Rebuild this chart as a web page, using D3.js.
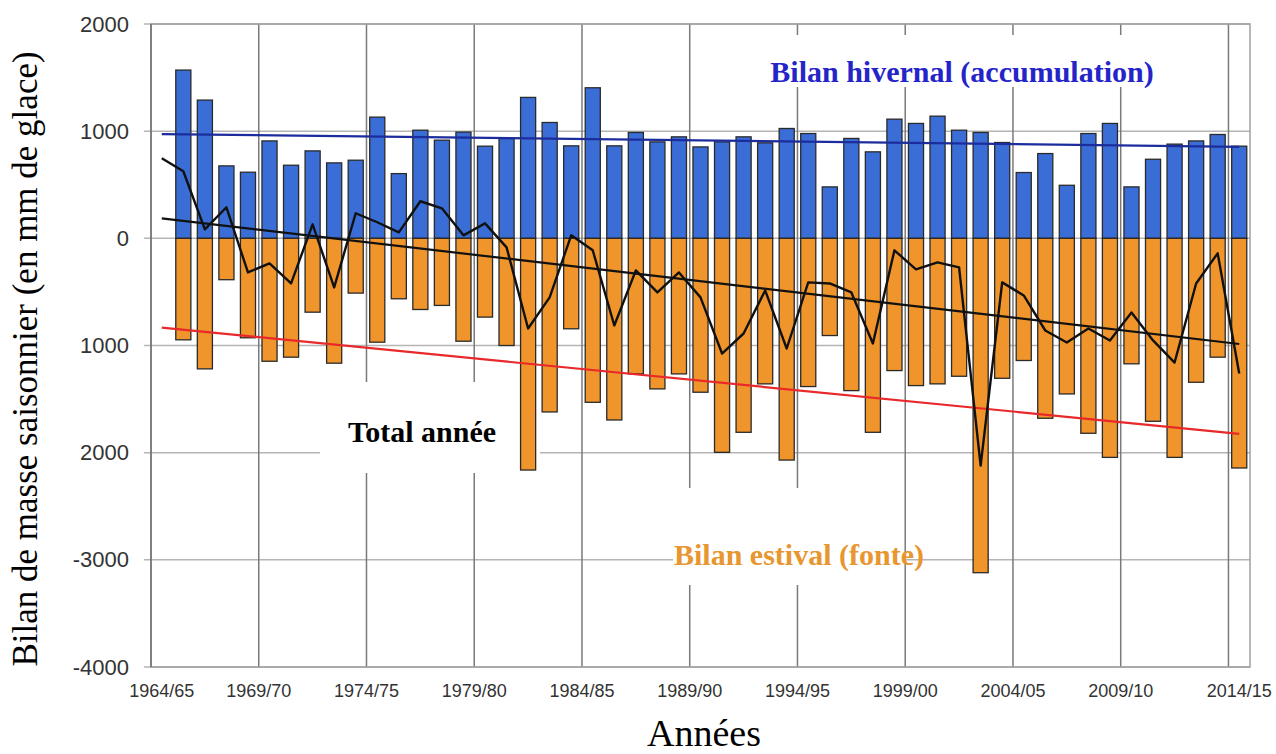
<!DOCTYPE html>
<html>
<head>
<meta charset="utf-8">
<script src="https://cdn.jsdelivr.net/npm/d3@7"></script>
<style>
  body { margin: 0; background: #fff; }
  svg { display: block; }
</style>
</head>
<body>
<svg width="1276" height="754"></svg>
<script>
'use strict';

// hydrological years 1964/65 .. 2014/15
var years = d3.range(1964, 2015).map(function(y) {
    return y + '/' + String((y + 1) % 100).padStart(2, '0');
});

// seasonal balances (mm w.e.), bars start at 1965/66
var winter = [1570, 1290, 676, 617, 909, 682, 816, 704, 729, 1131,
              604, 1009, 916, 991, 860, 932, 1315, 1081, 863, 1405,
              863, 988, 900, 947, 853, 900, 947, 891, 1025, 978,
              480, 932, 807, 1112, 1072, 1140, 1009, 988, 894, 614,
              791, 495, 978, 1072, 480, 738, 879, 909, 969, 860];
var summer = [-947, -1218, -386, -928, -1147, -1109, -689, -1165, -511, -969,
              -564, -664, -626, -960, -735, -1000, -2162, -1620, -844, -1530,
              -1695, -1265, -1405, -1265, -1436, -1997, -1810, -1358, -2069, -1383,
              -907, -1421, -1810, -1234, -1374, -1358, -1287, -3120, -1306, -1140,
              -1679, -1452, -1819, -2044, -1171, -1707, -2044, -1343, -1109, -2143];
// annual total, starts at 1964/65
var total = [748, 626, 84, 290, -318, -234, -421, 131, -458, 234,
             150, 56, 346, 280, 28, 140, -84, -841, -551, 28,
             -112, -813, -299, -505, -318, -551, -1075, -888, -486, -1028,
             -411, -421, -505, -981, -112, -290, -224, -271, -2121, -411,
             -533, -860, -972, -841, -953, -692, -953, -1159, -421, -140, -1262];

var yTickValues = [2000, 1000, 0, -1000, -2000, -3000, -4000];
var yTickLabels = ['2000', '1000', '0', '1000', '2000', '-3000', '-4000'];
var xTickLabels = ['1964/65', '1969/70', '1974/75', '1979/80', '1984/85', '1989/90',
                   '1994/95', '1999/00', '2004/05', '2009/10', '2014/15'];

var barYears = years.slice(1);

var PLOT = { left: 151, right: 1250, top: 24, bottom: 667 };
var BLUE = '#3a6ed6', ORANGE = '#f0952b';

var canvas = d3.select('svg');

var x = d3.scaleBand()
    .domain(years)
    .range([PLOT.left, PLOT.right])
    .paddingInner(0.3)
    .paddingOuter(0.15);
var step = x.step();
function cx(d) { return x(d) + x.bandwidth() / 2; }
function edge(d) { return cx(d) - step / 2; }

var y = d3.scaleLinear()
    .domain([-4000, 2000])
    .range([PLOT.bottom, PLOT.top]);

// grid
var grid = canvas.append('g');
grid.selectAll('line.h')
    .data(yTickValues)
    .enter()
    .append('line')
    .attr('x1', PLOT.left - 7)
    .attr('x2', PLOT.right)
    .attr('y1', function(d) { return y(d); })
    .attr('y2', function(d) { return y(d); })
    .attr('stroke', '#b5b5b5')
    .attr('stroke-width', 1.5);

grid.selectAll('line.v')
    .data(xTickLabels.slice(1))
    .enter()
    .append('line')
    .attr('x1', function(d) { return edge(d); })
    .attr('x2', function(d) { return edge(d); })
    .attr('y1', PLOT.top)
    .attr('y2', PLOT.bottom)
    .attr('stroke', '#7a7a7a')
    .attr('stroke-width', 1.5);

// plot frame
canvas.append('rect')
    .attr('x', PLOT.left)
    .attr('y', PLOT.top)
    .attr('width', PLOT.right - PLOT.left)
    .attr('height', PLOT.bottom - PLOT.top)
    .attr('fill', 'none')
    .attr('stroke', '#a0a0a0')
    .attr('stroke-width', 1.5);
canvas.append('line')
    .attr('x1', PLOT.left).attr('x2', PLOT.left)
    .attr('y1', PLOT.top).attr('y2', PLOT.bottom)
    .attr('stroke', '#6e6e6e').attr('stroke-width', 1.5);

// white boxes behind the annotations
var boxes = [
    { x0: 760, x1: 1166, y0: 35, y1: 87 },
    { x0: 320, x1: 540, y0: 382, y1: 473 },
    { x0: 673, x1: 903, y0: 488, y1: 585 }
];
canvas.selectAll('rect.box')
    .data(boxes)
    .enter()
    .append('rect')
    .attr('x', function(d) { return d.x0; })
    .attr('y', function(d) { return d.y0; })
    .attr('width', function(d) { return d.x1 - d.x0; })
    .attr('height', function(d) { return d.y1 - d.y0; })
    .attr('fill', '#fff');

// bars
var bars = canvas.append('g')
    .attr('stroke', '#2a2a2a')
    .attr('stroke-width', 1.3);

bars.selectAll('rect.w')
    .data(winter)
    .enter()
    .append('rect')
    .attr('x', function(d, i) { return x(barYears[i]); })
    .attr('width', x.bandwidth())
    .attr('y', function(d) { return y(d); })
    .attr('height', function(d) { return y(0) - y(d); })
    .attr('fill', BLUE);

bars.selectAll('rect.s')
    .data(summer)
    .enter()
    .append('rect')
    .attr('x', function(d, i) { return x(barYears[i]); })
    .attr('width', x.bandwidth())
    .attr('y', y(0))
    .attr('height', function(d) { return y(d) - y(0); })
    .attr('fill', ORANGE);

// linear trends
function trend(values, xs) {
    var mx = d3.mean(xs), my = d3.mean(values);
    var sxy = d3.sum(xs, function(v, i) { return (v - mx) * (values[i] - my); });
    var sxx = d3.sum(xs, function(v) { return (v - mx) * (v - mx); });
    var b = sxy / sxx, a = my - b * mx;
    return function(i) { return a + b * i; };
}
var barIdx = d3.range(1, 51);
var trends = [
    { f: trend(winter, barIdx), color: '#1c2c9c' },
    { f: trend(summer, barIdx), color: '#e8282a' },
    { f: trend(total, d3.range(0, 51)), color: '#111' }
];
canvas.selectAll('line.trend')
    .data(trends)
    .enter()
    .append('line')
    .attr('x1', cx(years[0]))
    .attr('x2', cx(years[50]))
    .attr('y1', function(d) { return y(d.f(0)); })
    .attr('y2', function(d) { return y(d.f(50)); })
    .attr('stroke', function(d) { return d.color; })
    .attr('stroke-width', 2.2);

// annual total
var line = d3.line()
    .x(function(d, i) { return cx(years[i]); })
    .y(function(d) { return y(d); });
canvas.append('path')
    .datum(total)
    .attr('d', line)
    .attr('fill', 'none')
    .attr('stroke', '#111')
    .attr('stroke-width', 2.4)
    .attr('stroke-linejoin', 'round');

// y axis labels
var axisY = d3.axisLeft(y)
    .tickValues(yTickValues)
    .tickFormat(function(d, i) { return yTickLabels[i]; })
    .tickSize(0)
    .tickPadding(22);
var gy = canvas.append('g')
    .attr('transform', 'translate(' + PLOT.left + ',0)')
    .call(axisY);
gy.select('.domain').remove();
gy.selectAll('text')
    .attr('font-family', 'Liberation Sans, Arial, sans-serif')
    .attr('font-size', 22)
    .attr('fill', '#333');

// x axis labels
canvas.selectAll('text.xt')
    .data(xTickLabels)
    .enter()
    .append('text')
    .attr('x', function(d, i) {
        return (i === 0 || i === xTickLabels.length - 1) ? cx(d) : edge(d);
    })
    .attr('y', 697)
    .attr('text-anchor', 'middle')
    .attr('font-family', 'Liberation Sans, Arial, sans-serif')
    .attr('font-size', 18)
    .attr('fill', '#333')
    .text(function(d) { return d; });

// titles
canvas.append('text')
    .attr('transform', 'translate(37,359) rotate(-90)')
    .attr('text-anchor', 'middle')
    .attr('font-family', 'Liberation Serif, Times New Roman, serif')
    .attr('font-size', 35)
    .attr('fill', '#000')
    .text('Bilan de masse saisonnier (en mm de glace)');

canvas.append('text')
    .attr('x', 704)
    .attr('y', 746)
    .attr('text-anchor', 'middle')
    .attr('font-family', 'Liberation Serif, Times New Roman, serif')
    .attr('font-size', 38)
    .attr('fill', '#000')
    .text('Années');

// annotations
var notes = [
    { t: 'Bilan hivernal (accumulation)', x: 962, y: 82, c: '#2424c8', s: 30 },
    { t: 'Total année', x: 422, y: 442, c: '#000', s: 30 },
    { t: 'Bilan estival (fonte)', x: 799, y: 565, c: '#e8962f', s: 30 }
];
canvas.selectAll('text.note')
    .data(notes)
    .enter()
    .append('text')
    .attr('x', function(d) { return d.x; })
    .attr('y', function(d) { return d.y; })
    .attr('text-anchor', 'middle')
    .attr('font-family', 'Liberation Serif, Times New Roman, serif')
    .attr('font-weight', 'bold')
    .attr('font-size', function(d) { return d.s; })
    .attr('fill', function(d) { return d.c; })
    .text(function(d) { return d.t; });
</script>
</body>
</html>
